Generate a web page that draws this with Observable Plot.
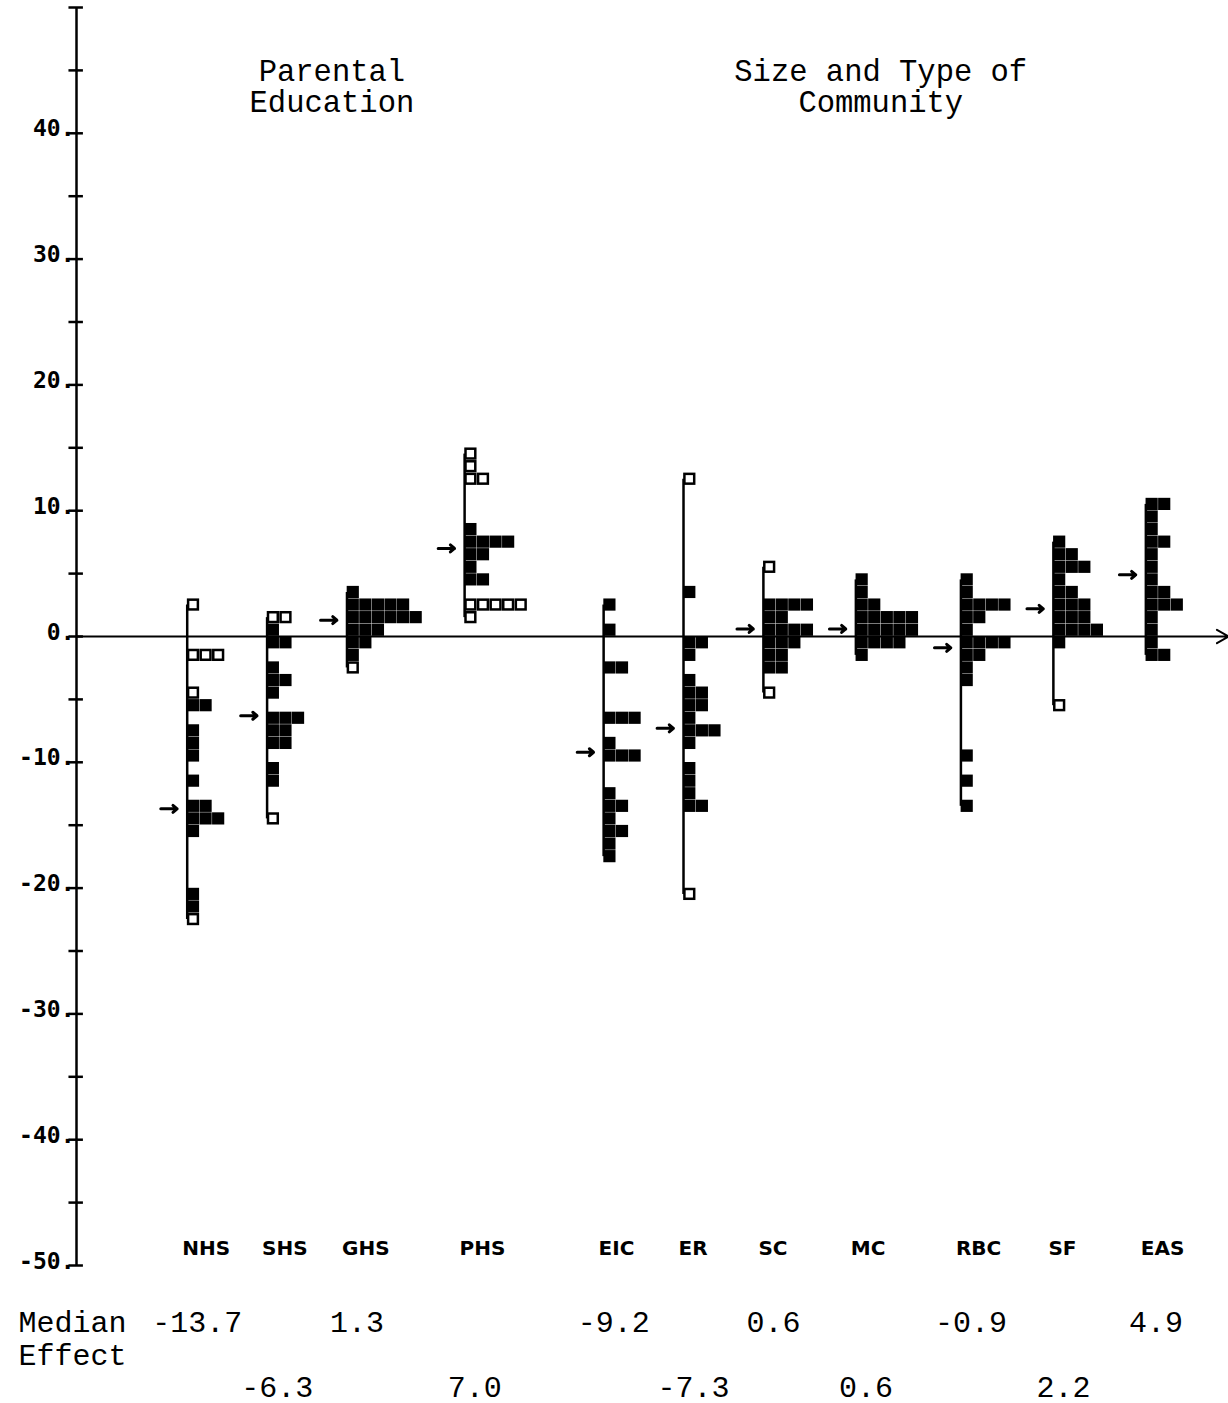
<!DOCTYPE html>
<html><head><meta charset="utf-8">
<script src="https://cdn.jsdelivr.net/npm/d3@7"></script>
<script src="https://cdn.jsdelivr.net/npm/@observablehq/plot@0.6"></script>
<style>html,body{margin:0;padding:0;background:#fff} #chart svg{display:block}</style>
</head><body><div id="chart"></div>
<script>
// ---- data ----
const categories = ["NHS","SHS","GHS","PHS","EIC","ER","SC","MC","RBC","SF","EAS"];
const medians    = [-13.7, -6.3, 1.3, 7.0, -9.2, -7.3, 0.6, 0.6, -0.9, 2.2, 4.9];
const sectionTitles  = ["Parental\nEducation", "Size and Type of\nCommunity"];
const sectionMembers = [["NHS","SHS","GHS","PHS"], ["EIC","ER","SC","MC","RBC","SF","EAS"]];
const yTickValues  = [-50,-45,-40,-35,-30,-25,-20,-15,-10,-5,0,5,10,15,20,25,30,35,40,45,50];
const yLabelValues = [-50,-40,-30,-20,-10,0,10,20,30,40];

// rows: [bin centre value, squares in the row (f = filled, o = open)]
const NHS = [[2.5,"o"],[-1.5,"ooo"],[-4.5,"o"],[-5.5,"ff"],[-7.5,"f"],[-8.5,"f"],[-9.5,"f"],[-11.5,"f"],[-13.5,"ff"],[-14.5,"fff"],[-15.5,"f"],[-20.5,"f"],[-21.5,"f"],[-22.5,"o"]];
const SHS = [[1.5,"oo"],[0.5,"f"],[-0.5,"ff"],[-2.5,"f"],[-3.5,"ff"],[-4.5,"f"],[-6.5,"fff"],[-7.5,"ff"],[-8.5,"ff"],[-10.5,"f"],[-11.5,"f"],[-14.5,"o"]];
const GHS = [[3.5,"f"],[2.5,"fffff"],[1.5,"ffffff"],[0.5,"fff"],[-0.5,"ff"],[-1.5,"f"],[-2.5,"o"]];
const PHS = [[14.5,"o"],[13.5,"o"],[12.5,"oo"],[8.5,"f"],[7.5,"ffff"],[6.5,"ff"],[5.5,"f"],[4.5,"ff"],[2.5,"ooooo"],[1.5,"o"]];
const EIC = [[2.5,"f"],[0.5,"f"],[-2.5,"ff"],[-6.5,"fff"],[-8.5,"f"],[-9.5,"fff"],[-12.5,"f"],[-13.5,"ff"],[-14.5,"f"],[-15.5,"ff"],[-16.5,"f"],[-17.5,"f"]];
const ER  = [[12.5,"o"],[3.5,"f"],[-0.5,"ff"],[-1.5,"f"],[-3.5,"f"],[-4.5,"ff"],[-5.5,"ff"],[-6.5,"f"],[-7.5,"fff"],[-8.5,"f"],[-10.5,"f"],[-11.5,"f"],[-12.5,"f"],[-13.5,"ff"],[-20.5,"o"]];
const SC  = [[5.5,"o"],[2.5,"ffff"],[1.5,"ff"],[0.5,"ffff"],[-0.5,"fff"],[-1.5,"ff"],[-2.5,"ff"],[-4.5,"o"]];
const MC  = [[4.5,"f"],[3.5,"f"],[2.5,"ff"],[1.5,"fffff"],[0.5,"fffff"],[-0.5,"ffff"],[-1.5,"f"]];
const RBC = [[4.5,"f"],[3.5,"f"],[2.5,"ffff"],[1.5,"ff"],[0.5,"f"],[-0.5,"ffff"],[-1.5,"ff"],[-2.5,"f"],[-3.5,"f"],[-9.5,"f"],[-11.5,"f"],[-13.5,"f"]];
const SF  = [[7.5,"f"],[6.5,"ff"],[5.5,"fff"],[4.5,"f"],[3.5,"ff"],[2.5,"fff"],[1.5,"fff"],[0.5,"ffff"],[-0.5,"f"],[-5.5,"o"]];
const EAS = [[10.5,"ff"],[9.5,"f"],[8.5,"f"],[7.5,"ff"],[6.5,"f"],[5.5,"f"],[4.5,"f"],[3.5,"ff"],[2.5,"fff"],[1.5,"f"],[0.5,"f"],[-0.5,"f"],[-1.5,"ff"]];

const rowsByCategory = {NHS, SHS, GHS, PHS, EIC, ER, SC, MC, RBC, SF, EAS};

// ---- layout (x in "square" units; one square = one y unit) ----
const XMAX = 91.57, START = 8.8, GAP = 3.35, SECTION_GAP = 2.7;
const pos = {};
let cursor = START;
sectionMembers.forEach((members, si) => {
  if (si > 0) cursor += SECTION_GAP;
  members.forEach(c => {
    pos[c] = cursor;
    cursor += d3.max(rowsByCategory[c], r => r[1].length) + GAP;
  });
});

const groups = categories.map((c, k) => {
  const vals = rowsByCategory[c].map(r => r[0]);
  return {cat: c, pos: pos[c], min: d3.min(vals), max: d3.max(vals), median: medians[k], row: k % 2};
});
const squares = categories.flatMap(c => rowsByCategory[c].flatMap(([v, s]) =>
  Array.from(s).map((ch, i) => ({cat: c, pos: pos[c], v, i, open: ch === "o"}))));

const sections = sectionMembers.map((m, si) => ({
  title: sectionTitles[si],
  x: (pos[m[0]] + pos[m[m.length - 1]]) / 2
}));

const mono = "'Liberation Mono', 'DejaVu Sans Mono', monospace";
const plotFont = "'DejaVu Sans', sans-serif";

const chart = Plot.plot({
  width: 1228, height: 1403,
  marginLeft: 76, marginRight: 0, marginTop: 7, marginBottom: 138,
  x: {domain: [0, XMAX], axis: null},
  y: {domain: [-50, 50], axis: null},
  style: {background: "white", color: "black", overflow: "visible"},
  marks: [
    // y axis
    Plot.ruleX([0], {y1: -50, y2: 50, strokeWidth: 2.5}),
    Plot.ruleY(yTickValues, {y: d => d, x1: -0.6, x2: 0.55, strokeWidth: 2.5}),
    Plot.text(yLabelValues, {y: d => d, text: d => d + ".", frameAnchor: "left", textAnchor: "end",
      lineAnchor: "bottom", dx: -2, dy: 3, fontSize: 23, fontWeight: "bold", fontFamily: "'DejaVu Sans Mono', monospace"}),
    // zero line with arrow
    Plot.arrow([0], {x1: 0, x2: XMAX, y1: 0, y2: 0, strokeWidth: 2, headLength: 10}),
    // group range lines
    Plot.ruleX(groups, {x: "pos", y1: "min", y2: "max", strokeWidth: 2.5}),
    // squares
    Plot.rect(squares.filter(d => !d.open), {x1: d => d.pos + d.i, x2: d => d.pos + d.i + 1,
      y1: d => d.v - 0.5, y2: d => d.v + 0.5, fill: "#000", inset: 0.2}),
    Plot.rect(squares.filter(d => d.open), {x1: d => d.pos + d.i, x2: d => d.pos + d.i + 1,
      y1: d => d.v - 0.5, y2: d => d.v + 0.5, fill: "white", stroke: "black", strokeWidth: 2.5, inset: 1.4}),
    // median arrows
    Plot.arrow(groups, {x1: d => d.pos - 2.1, x2: d => d.pos - 0.8, y1: "median", y2: "median",
      strokeWidth: 3, headLength: 7, headAngle: 80}),
    // category labels
    Plot.text(groups, {x: "pos", frameAnchor: "bottom", dx: -5, dy: -11, text: "cat", textAnchor: "start",
      fontSize: 20, fontWeight: "bold", fontFamily: plotFont}),
    // median effect values
    Plot.text(groups, {x: d => d.pos + 0.8, frameAnchor: "bottom", text: d => d.median.toFixed(1),
      filter: d => d.row === 0, dy: 66, fontSize: 30, fontFamily: mono}),
    Plot.text(groups, {x: d => d.pos + 0.8, frameAnchor: "bottom", text: d => d.median.toFixed(1),
      filter: d => d.row === 1, dy: 131, fontSize: 30, fontFamily: mono}),
    Plot.text(["Median"], {frameAnchor: "bottom-left", dx: -58, dy: 66, textAnchor: "start", fontSize: 30, fontFamily: mono}),
    Plot.text(["Effect"], {frameAnchor: "bottom-left", dx: -58, dy: 99, textAnchor: "start", fontSize: 30, fontFamily: mono}),
    // section titles
    Plot.text(sections, {x: "x", frameAnchor: "top", dx: 6, dy: 51, text: "title", lineHeight: 1.03,
      fontSize: 30.5, fontFamily: mono})
  ]
});
document.getElementById("chart").append(chart);
</script>
</body></html>
